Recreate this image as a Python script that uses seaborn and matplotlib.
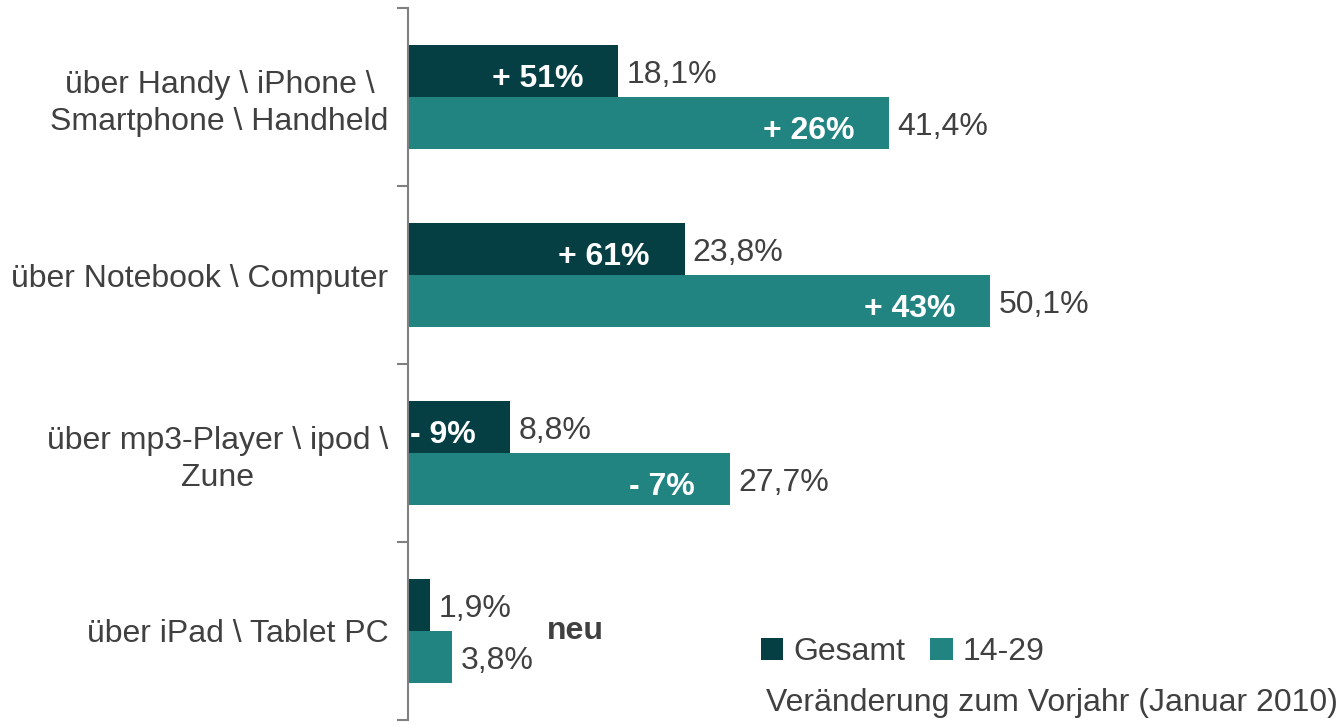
import pandas as pd
import numpy as np
import matplotlib.pyplot as plt
import seaborn as sns

# ── Data ─────────────────────────────────────────────
categories = ['über Handy \\ iPhone \\\nSmartphone \\ Handheld',
              'über Notebook \\ Computer',
              'über mp3-Player \\ ipod \\\nZune',
              'über iPad \\ Tablet PC']
groups = ['Gesamt', '14-29']
gesamt = [18.1, 23.8, 8.8, 1.9]
jung = [41.4, 50.1, 27.7, 3.8]
change_gesamt = ['+ 51%', '+ 61%', '- 9%', None]
change_jung = ['+ 26%', '+ 43%', '- 7%', None]

COLORS = ['#053f43', '#218481']
TEXT = '#404040'

df = pd.DataFrame({
    'Kategorie': categories * 2,
    'Gruppe': [groups[0]] * 4 + [groups[1]] * 4,
    'Wert': gesamt + jung,
})

# ── Style ────────────────────────────────────────────
sns.set_style('white')
plt.rcParams['font.family'] = ['Liberation Sans', 'DejaVu Sans']
FS = 23

fig = plt.figure(figsize=(13.41, 7.25), dpi=100)
ax = fig.add_axes([408 / 1341, 5 / 725, (1338 - 408) / 1341, 712 / 725])

sns.barplot(data=df, y='Kategorie', x='Wert', hue='Gruppe', orient='h',
            palette=COLORS, width=0.585, saturation=1, linewidth=0, ax=ax)
ax.set_xlim(0, 80)
ax.set_ylim(3.5, -0.5)

# value labels + change labels
for cont, vals, changes in zip(ax.containers, [gesamt, jung],
                               [change_gesamt, change_jung]):
    for bar, v, ch in zip(cont, vals, changes):
        yc = bar.get_y() + bar.get_height() / 2 + 0.025
        ax.text(v + 0.7, yc, f"{v:.1f}".replace('.', ',') + '%',
                ha='left', va='center', fontsize=FS, color=TEXT)
        if ch:
            ax.text(v - 3.0, yc + 0.02, ch, ha='right', va='center',
                    fontsize=FS, color='white', fontweight='bold')

ax.text(14.4, 3.0, 'neu', ha='center', va='center', fontsize=FS,
        color=TEXT, fontweight='bold')

# axes styling
for s in ['top', 'right', 'bottom']:
    ax.spines[s].set_visible(False)
ax.spines['left'].set_color('#808080')
ax.spines['left'].set_linewidth(1.5)
ax.set_xticks([])
ax.set_xlabel('')
ax.set_ylabel('')
ax.set_yticks(np.arange(-0.5, 4, 1))
ax.set_yticklabels([])
ax.tick_params(axis='y', which='major', length=8, width=1.5,
               color='#808080', left=True)
ax.set_yticks(range(len(categories)), minor=True)
ax.set_yticklabels(categories, minor=True, fontsize=FS, color=TEXT,
                   multialignment='center', linespacing=1.3)
ax.tick_params(axis='y', which='minor', length=0, pad=14)

# legend
ax.get_legend().remove()
handles, labels = ax.get_legend_handles_labels()
fig.legend(handles[:2], labels[:2], loc='center left', ncol=2,
           bbox_to_anchor=(745 / 1341, 1 - 652 / 725), frameon=False,
           fontsize=FS, labelcolor=TEXT, borderpad=0, handlelength=0.7,
           handleheight=0.7, handletextpad=0.3, columnspacing=0.8)
fig.text(1338 / 1341, 1 - 703 / 725, 'Veränderung zum Vorjahr (Januar 2010)',
         ha='right', va='center', fontsize=FS, color=TEXT)

plt.savefig('out.png', dpi=100)
